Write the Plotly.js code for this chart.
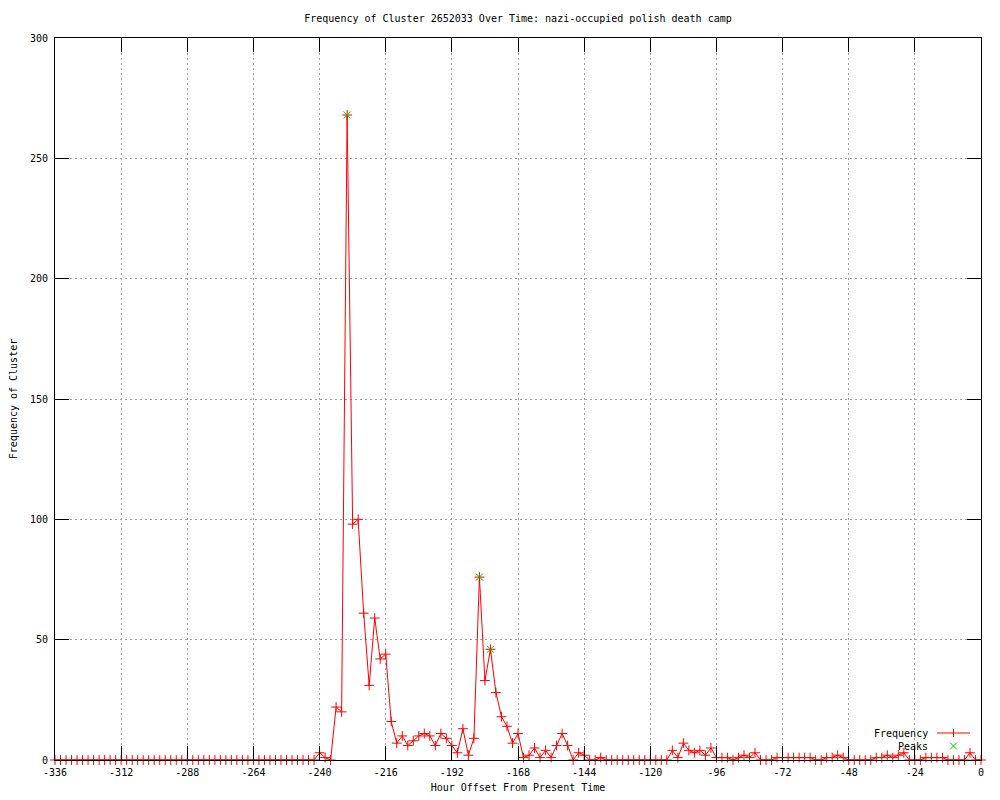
<!DOCTYPE html>
<html>
<head>
<meta charset="utf-8">
<script src="https://cdn.plot.ly/plotly-3.0.1.min.js"></script>
<style>
  html, body { margin: 0; padding: 0; background: #ffffff; }
  #chart { width: 1000px; height: 800px; }
</style>
</head>
<body>
<div id="chart"></div>
<script>
// Hour offsets (every 2 hours from -336 to 0)
const hours = [
  -336,-334,-332,-330,-328,-326,-324,-322,-320,-318,-316,-314,-312,-310,-308,-306,-304,-302,-300,-298,
  -296,-294,-292,-290,-288,-286,-284,-282,-280,-278,-276,-274,-272,-270,-268,-266,-264,-262,-260,-258,
  -256,-254,-252,-250,-248,-246,-244,-242,-240,-238,-236,-234,-232,-230,-228,-226,-224,-222,-220,-218,
  -216,-214,-212,-210,-208,-206,-204,-202,-200,-198,-196,-194,-192,-190,-188,-186,-184,-182,-180,-178,
  -176,-174,-172,-170,-168,-166,-164,-162,-160,-158,-156,-154,-152,-150,-148,-146,-144,-142,-140,-138,
  -136,-134,-132,-130,-128,-126,-124,-122,-120,-118,-116,-114,-112,-110,-108,-106,-104,-102,-100,-98,
  -96,-94,-92,-90,-88,-86,-84,-82,-80,-78,-76,-74,-72,-70,-68,-66,-64,-62,-60,-58,
  -56,-54,-52,-50,-48,-46,-44,-42,-40,-38,-36,-34,-32,-30,-28,-26,-24,-22,-20,-18,
  -16,-14,-12,-10,-8,-6,-4,-2,0
];

// Frequency of cluster at each hour offset
const frequency = [
  0,0,0,0,0,0,0,0,0,0,0,0,0,0,0,0,0,0,0,0,
  0,0,0,0,0,0,0,0,0,0,0,0,0,0,0,0,0,0,0,0,
  0,0,0,0,0,0,0,0,3,1,0,22,20,268,98,100,61,31,59,42,
  44,16,7,10,6,8,10,11,10,6,11,9,6,3,13,2,9,76,33,46,
  28,18,14,7,11,1,2,5,1,4,1,6,11,6,0,3,2,0,0,1,
  0,0,0,0,0,0,0,0,0,0,0,0,4,1,7,4,3,4,2,5,
  1,1,1,0,1,2,1,3,0,0,0,1,1,1,1,1,1,1,0,0,
  1,1,2,1,0,0,0,0,0,1,1,2,1,2,3,0,0,0,1,1,
  1,1,0,0,0,0,3,0,0
];

// Detected peaks
const peakHours = [-230, -182, -178];
const peakValues = [268, 76, 46];

const xTicks = [-336,-312,-288,-264,-240,-216,-192,-168,-144,-120,-96,-72,-48,-24,0];
const yTicks = [0,50,100,150,200,250,300];

const FONT = "DejaVu Sans Mono, Liberation Mono, monospace";

const traces = [
  {
    x: hours, y: frequency, type: "scatter", mode: "lines+markers", name: "Frequency",
    line: { color: "#ff0000", width: 1 },
    marker: { symbol: "cross-thin-open", size: 7, color: "#ff0000", line: { color: "#ff0000", width: 1 } },
    showlegend: false, cliponaxis: false
  },
  {
    x: peakHours, y: peakValues, type: "scatter", mode: "markers", name: "Peaks",
    marker: { symbol: "x-thin-open", size: 7, color: "#00c000", line: { color: "#00c000", width: 1 } },
    showlegend: false, cliponaxis: false
  }
];

// legend geometry helpers (paper coords, plot area 55..981 x 38..760)
const px = v => (v - 55) / 926;
const py = v => (760 - v) / 722;

const layout = {
  width: 1000, height: 800,
  paper_bgcolor: "#ffffff", plot_bgcolor: "#ffffff",
  margin: { l: 55, r: 19, t: 38, b: 40, pad: 0 },
  font: { family: FONT, size: 10, color: "#000000" },
  title: {
    text: "Frequency of Cluster 2652033 Over Time: nazi-occupied polish death camp",
    font: { family: FONT, size: 10, color: "#000000" },
    xref: "paper", x: 0.5, xanchor: "center",
    yref: "container", y: 1 - 18 / 800, yanchor: "middle"
  },
  xaxis: {
    range: [-336, 0], tickmode: "array", tickvals: xTicks, ticktext: xTicks.map(String),
    showgrid: true, gridcolor: "#a0a0a0", griddash: "2px,3px", gridwidth: 1,
    zeroline: false, showline: true, linecolor: "#000000", linewidth: 1, mirror: "ticks",
    ticks: "inside", ticklen: 14, tickcolor: "#000000", tickwidth: 1,
    ticklabelstandoff: 3,
    tickfont: { family: FONT, size: 10, color: "#000000" },
    title: { text: "Hour Offset From Present Time", font: { family: FONT, size: 10, color: "#000000" }, standoff: 6 },
    automargin: false, fixedrange: true
  },
  yaxis: {
    range: [0, 300], tickmode: "array", tickvals: yTicks, ticktext: yTicks.map(String),
    showgrid: true, gridcolor: "#a0a0a0", griddash: "2px,3px", gridwidth: 1,
    zeroline: false, showline: true, linecolor: "#000000", linewidth: 1, mirror: "ticks",
    ticks: "inside", ticklen: 14, tickcolor: "#000000", tickwidth: 1,
    ticklabelstandoff: 4,
    tickfont: { family: FONT, size: 10, color: "#000000" },
    title: { text: "Frequency of Cluster", font: { family: FONT, size: 10, color: "#000000" }, standoff: 10 },
    automargin: false, fixedrange: true
  },
  shapes: [
    { type: "line", xref: "paper", yref: "paper", x0: px(937), x1: px(970), y0: py(733), y1: py(733),
      line: { color: "#ff0000", width: 1 } },
    { type: "line", xref: "paper", yref: "paper", x0: px(953.5), x1: px(953.5), y0: py(729), y1: py(737),
      line: { color: "#ff0000", width: 1 } },
    { type: "line", xref: "paper", yref: "paper", x0: px(950), x1: px(957), y0: py(742.5), y1: py(749.5),
      line: { color: "#00c000", width: 1 } },
    { type: "line", xref: "paper", yref: "paper", x0: px(950), x1: px(957), y0: py(749.5), y1: py(742.5),
      line: { color: "#00c000", width: 1 } }
  ],
  annotations: [
    { text: "Frequency", xref: "paper", yref: "paper", x: px(930), y: py(733), xanchor: "right", yanchor: "middle",
      showarrow: false, font: { family: FONT, size: 10, color: "#000000" } },
    { text: "Peaks", xref: "paper", yref: "paper", x: px(930), y: py(746), xanchor: "right", yanchor: "middle",
      showarrow: false, font: { family: FONT, size: 10, color: "#000000" } }
  ]
};

Plotly.newPlot("chart", traces, layout, { displayModeBar: false, staticPlot: true });
</script>
</body>
</html>
